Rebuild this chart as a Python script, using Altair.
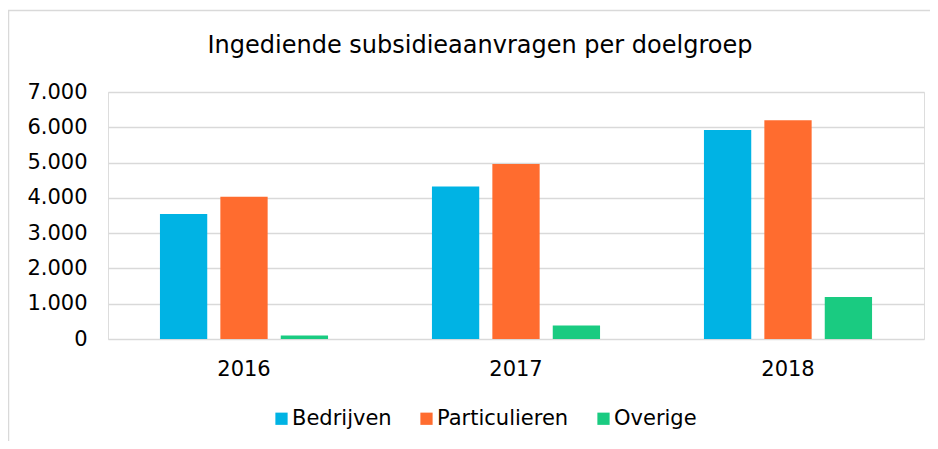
import altair as alt
import pandas as pd

years = ["2016", "2017", "2018"]
groups = ["Bedrijven", "Particulieren", "Overige"]
bedrijven = [3540, 4320, 5920]
particulieren = [4030, 4960, 6200]
overige = [100, 380, 1190]
colors = ["#00B3E4", "#FF6C2F", "#1ACB81"]
y_ticks = [0, 1000, 2000, 3000, 4000, 5000, 6000, 7000]
title_text = "Ingediende subsidieaanvragen per doelgroep"

rows = []
for i, y in enumerate(years):
    for g, vals in zip(groups, [bedrijven, particulieren, overige]):
        rows.append({"jaar": y, "doelgroep": g, "aantal": vals[i]})
df = pd.DataFrame(rows)

FONT = "DejaVu Sans"

bars = alt.Chart(df).mark_bar().encode(
    x=alt.X("jaar:N", sort=years,
            scale=alt.Scale(paddingInner=0.382, paddingOuter=0.191),
            axis=alt.Axis(title=None, labelAngle=0, ticks=False, domain=False,
                          labelFont=FONT, labelFontSize=21, labelColor="#000000",
                          labelPadding=19)),
    xOffset=alt.XOffset("doelgroep:N", sort=groups,
                        scale=alt.Scale(paddingInner=0.217, paddingOuter=0)),
    y=alt.Y("aantal:Q",
            scale=alt.Scale(domain=[0, 7000], nice=False),
            axis=alt.Axis(title=None, values=y_ticks, ticks=False, domain=False,
                          labelFont=FONT, labelFontSize=21, labelColor="#000000",
                          labelPadding=21,
                          labelExpr="replace(format(datum.value, ','), ',', '.')",
                          gridColor="#D9D9D9", gridWidth=1.5)),
    color=alt.Color("doelgroep:N", sort=groups,
                    scale=alt.Scale(domain=groups, range=colors),
                    legend=alt.Legend(title=None, orient="none", direction="horizontal",
                                      legendX=163, legendY=316,
                                      symbolType="square", symbolSize=150,
                                      symbolStrokeWidth=0,
                                      labelFont=FONT, labelFontSize=21,
                                      labelColor="#000000", labelOffset=0,
                                      columnPadding=24)),
)

border = alt.Chart(pd.DataFrame({"k": [0]})).mark_rect(
    fill=None, stroke="#D9D9D9", strokeWidth=1.5
).encode(
    x=alt.value(-99.5), x2=alt.value(900),
    y=alt.value(-81.5), y2=alt.value(400),
)

title = alt.Chart(pd.DataFrame({"t": [title_text]})).mark_text(
    font=FONT, fontSize=24, color="#000000", align="center", baseline="alphabetic"
).encode(
    text="t:N", x=alt.value(372), y=alt.value(-39),
)

chart = alt.layer(border, bars, title).properties(
    width=816, height=247,
    padding={"left": 100, "top": 84, "right": 6, "bottom": 102},
    autosize=alt.AutoSizeParams(type="none"),
).configure_view(strokeWidth=0).configure(background="#FFFFFF")

chart.save("out.html", embed_options={"renderer": "svg", "actions": False})
